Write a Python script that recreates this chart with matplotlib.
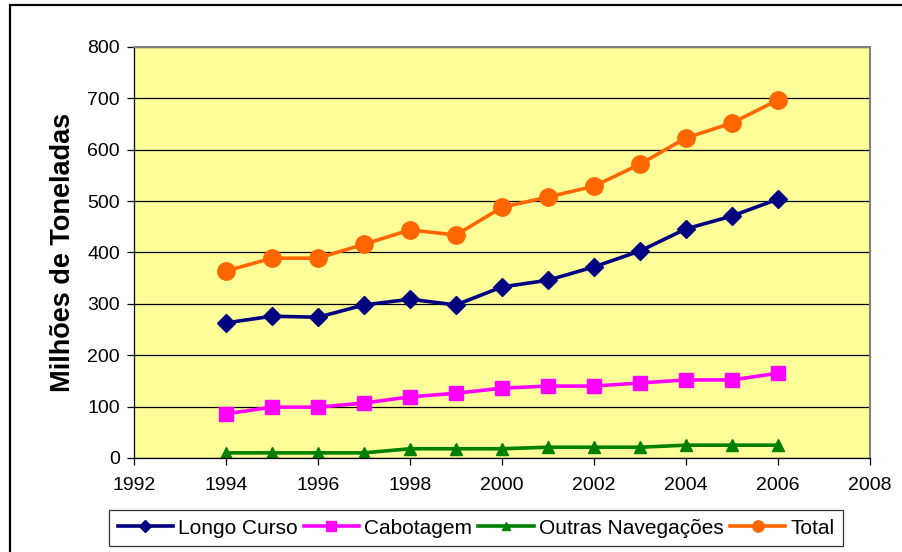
import numpy as np
import matplotlib as mpl
mpl.use('Agg')
import matplotlib.pyplot as plt
from matplotlib.patches import Rectangle

mpl.rcParams['font.family'] = ['Liberation Sans', 'DejaVu Sans']

years = [1994, 1995, 1996, 1997, 1998, 1999, 2000, 2001, 2002, 2003, 2004, 2005, 2006]
longo_curso = [263, 276, 274, 298, 309, 298, 333, 346, 372, 403, 446, 471, 504]
cabotagem = [86, 99, 99, 107, 119, 126, 136, 140, 140, 146, 152, 152, 165]
outras = [10, 10, 10, 10, 18, 18, 18, 21, 21, 21, 25, 25, 25]
total = [364, 389, 389, 416, 444, 434, 488, 508, 529, 572, 623, 652, 697]

DPI = 100
fig = plt.figure(figsize=(902/DPI, 552/DPI), dpi=DPI)
ax = fig.add_axes([134/902, 1 - 458/552, (870 - 134)/902, (458 - 47)/552])
ax.set_facecolor('#FFFF99')

# chart frame
fig.patches.append(Rectangle((10/902, -0.05), 1.0, 1 - 5/552 + 0.05, transform=fig.transFigure,
                             fill=False, edgecolor='black', linewidth=1.6))

ax.plot(years, longo_curso, color='#000080', linewidth=2.6, marker='D', markersize=9, label='Longo Curso')
ax.plot(years, cabotagem, color='#FF00FF', linewidth=2.6, marker='s', markersize=10.5, label='Cabotagem')
ax.plot(years, outras, color='#008000', linewidth=2.6, marker='^', markersize=9, label='Outras Navegações')
ax.plot(years, total, color='#FF6600', linewidth=2.6, marker='o', markersize=12.5, label='Total')

ax.set_xlim(1992, 2008)
ax.set_ylim(0, 800)
ax.set_xticks(range(1992, 2009, 2))
ax.set_yticks(range(0, 801, 100))
ax.yaxis.grid(True, color='black', linewidth=0.9)
ax.set_axisbelow(True)
ax.tick_params(labelsize=14, length=5, width=0.9, direction='out')
ax.tick_params(axis='y', pad=5)
ax.tick_params(axis='x', pad=9)

for s in ['top', 'right']:
    ax.spines[s].set_color('#808080')
    ax.spines[s].set_linewidth(1.5)
for s in ['left', 'bottom']:
    ax.spines[s].set_color('black')
    ax.spines[s].set_linewidth(0.9)

ax.set_ylabel('Milhões de Toneladas', fontsize=19.5, fontweight='bold', labelpad=8)

leg = ax.legend(loc='center', bbox_to_anchor=(476/902, 1 - 528/552), bbox_transform=fig.transFigure,
                ncol=4, fontsize=15, frameon=True, fancybox=False, edgecolor='black',
                handlelength=2.65, handletextpad=0.25, columnspacing=0.3, borderpad=0.4,
                markerscale=0.65)
leg.get_frame().set_linewidth(0.9)

fig.savefig('out.png', dpi=DPI)
